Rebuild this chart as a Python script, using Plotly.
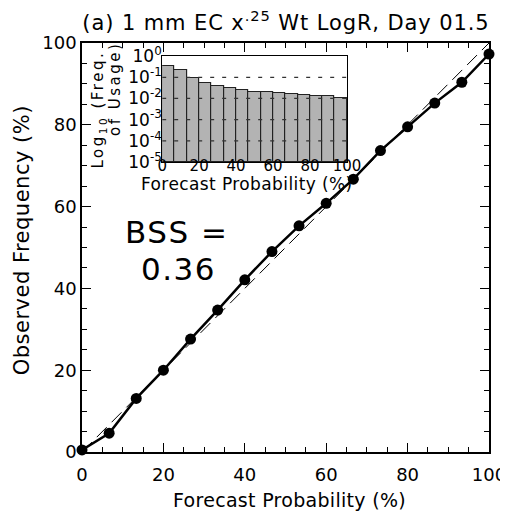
import plotly.graph_objects as go

# Reliability data
forecast_prob = [0, 6.67, 13.33, 20, 26.67, 33.33, 40, 46.67, 53.33, 60, 66.67, 73.33, 80, 86.67, 93.33, 100]
observed_freq = [0.5, 4.6, 13.1, 20.0, 27.6, 34.7, 42.1, 49.0, 55.3, 60.8, 66.7, 73.7, 79.5, 85.3, 90.4, 97.3]

# Inset histogram data (frequency of usage)
bin_centers = [3.33, 10.0, 16.67, 23.33, 30.0, 36.67, 43.33, 50.0, 56.67, 63.33, 70.0, 76.67, 83.33, 90.0, 96.67]
usage_freq = [0.35, 0.22, 0.088, 0.055, 0.038, 0.030, 0.025, 0.021, 0.019, 0.017, 0.0154, 0.0142, 0.0133, 0.0123, 0.0100]

title_text = "(a) 1 mm EC x<sup>.25</sup> Wt LogR, Day 01.5"
xtitle_text = "Forecast Probability (%)"
ytitle_text = "Observed Frequency (%)"
inset_ytitle_1 = "Log<sub>10</sub> (Freq."
inset_ytitle_2 = "of Usage)"
bss_label = "BSS ="
bss_value = "0.36"
main_ticks = [0, 20, 40, 60, 80, 100]
inset_ytickvals = [1e0, 1e-1, 1e-2, 1e-3, 1e-4, 1e-5]
inset_yticktext = ["10<sup>0</sup>", "10<sup>-1</sup>", "10<sup>-2</sup>", "10<sup>-3</sup>", "10<sup>-4</sup>", "10<sup>-5</sup>"]
grid_levels = [1e-1, 1e-2, 1e-3, 1e-4]

FONT = "DejaVu Sans"


def spaced(s, px):
    return '<span style="letter-spacing:%spx">%s</span>' % (px, s)


fig = go.Figure()

# Inset bars
fig.add_trace(go.Bar(
    x=bin_centers, y=usage_freq, width=100 / 15,
    base=1e-5,
    marker=dict(color="#b3b3b3", line=dict(color="#222222", width=1.2)),
    xaxis="x2", yaxis="y2", showlegend=False,
))
# dashed grid lines over the bars
gx, gy = [], []
for g in grid_levels:
    gx += [0, 100, None]
    gy += [g, g, None]
fig.add_trace(go.Scatter(
    x=gx, y=gy, mode="lines",
    line=dict(color="#333333", width=1.2, dash="4px,8px"),
    xaxis="x2", yaxis="y2", showlegend=False, hoverinfo="skip",
))

# Perfect reliability diagonal
fig.add_trace(go.Scatter(
    x=[0, 100], y=[0, 100], mode="lines",
    line=dict(color="black", width=1, dash="14px,7px"), showlegend=False,
))
# Reliability curve
fig.add_trace(go.Scatter(
    x=forecast_prob, y=observed_freq, mode="lines+markers",
    line=dict(color="black", width=2.5),
    marker=dict(color="black", size=11),
    showlegend=False, cliponaxis=False,
))

tick_common = dict(ticks="inside", ticklen=9, tickwidth=1.3, tickcolor="black",
                   showgrid=False, zeroline=False, automargin=False,
                   minor=dict(dtick=5, ticks="inside", ticklen=5, tickwidth=1.3, tickcolor="black"))


def ann(text, x, y, size, angle=0):
    return dict(text=text, xref="paper", yref="paper", x=x, y=y, textangle=angle,
                xanchor="center", yanchor="middle", showarrow=False,
                font=dict(size=size, family=FONT, color="black"))


# The page body has an 8px margin, so the figure is sized to fit the window from (8, 8).
fig.update_layout(
    width=500, height=506,
    margin=dict(l=74, r=19, t=35, b=62),
    paper_bgcolor="white", plot_bgcolor="white",
    font=dict(family=FONT, color="black"),
    title=dict(text=spaced(title_text, 0.9), x=0.556, xanchor="center", y=0.972, yanchor="middle",
               font=dict(size=21, family=FONT)),
    xaxis=dict(
        range=[0, 100], tickvals=main_ticks,
        showline=True, linecolor="black", linewidth=1.5, mirror=True,
        tickfont=dict(size=18), ticklabelstandoff=6,
        **tick_common,
    ),
    yaxis=dict(
        range=[0, 100], tickvals=main_ticks,
        showline=True, linecolor="black", linewidth=1.5, mirror=True,
        tickfont=dict(size=18),
        **tick_common,
    ),
    # mirrored tick axes (top / right)
    xaxis3=dict(overlaying="x", side="top", anchor="y", matches="x", range=[0, 100],
                tickvals=main_ticks, showticklabels=False, showline=False, **tick_common),
    yaxis3=dict(overlaying="y", side="right", anchor="x", matches="y", range=[0, 100],
                tickvals=main_ticks, showticklabels=False, showline=False, **tick_common),
    xaxis2=dict(
        domain=[0.197, 0.651], anchor="y2", range=[0, 100],
        tickvals=main_ticks, ticks="",
        showline=True, linecolor="black", linewidth=1, mirror=True,
        showgrid=False, zeroline=False, automargin=False,
        tickfont=dict(size=15), ticklabelstandoff=-10,
    ),
    yaxis2=dict(
        domain=[0.709, 0.968], anchor="x2", type="log", range=[-5, 0],
        tickvals=inset_ytickvals, ticktext=inset_yticktext, ticks="",
        showline=True, linecolor="black", linewidth=1, mirror=True,
        showgrid=False, zeroline=False, automargin=False,
        tickfont=dict(size=17), ticklabelstandoff=-4,
    ),
    bargap=0,
    annotations=[
        ann(spaced(xtitle_text, 0.3), 0.51, -0.117, 19),
        ann(spaced(ytitle_text, 0.5), -0.147, 0.518, 21, -90),
        ann(spaced(xtitle_text, 0.4), 0.4066, 0.656, 17),
        ann(spaced(inset_ytitle_1, 2.5), 0.0405, 0.8386, 15, -90),
        ann(spaced(inset_ytitle_2, 2.5), 0.081, 0.8875, 15, -90),
        ann(spaced(bss_label, 1.5), 0.231, 0.538, 31),
        ann(spaced(bss_value, 1.5), 0.236, 0.447, 31),
    ],
)

# invisible traces to activate the mirror tick axes
fig.add_trace(go.Scatter(x=[None], y=[None], xaxis="x3", yaxis="y3", showlegend=False, hoverinfo="skip"))

fig.write_html("out.html")
